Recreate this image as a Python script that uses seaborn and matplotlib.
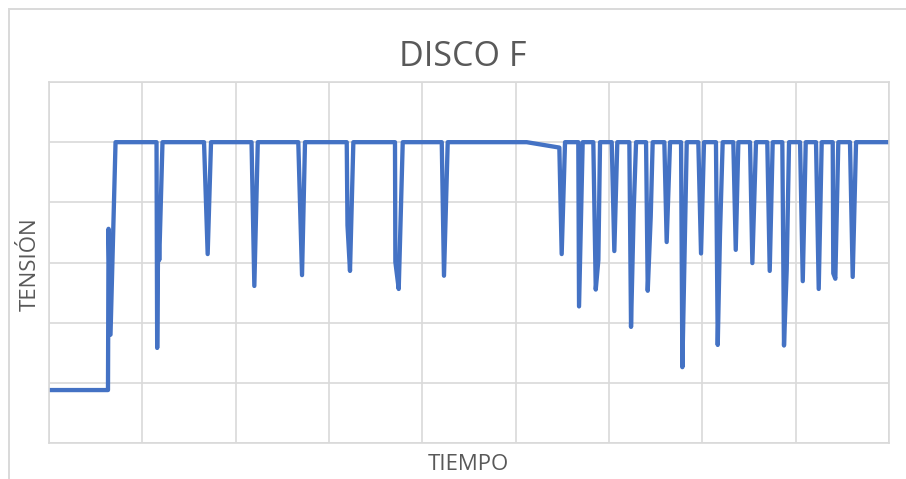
import matplotlib
matplotlib.use("Agg")
import matplotlib.pyplot as plt
import seaborn as sns
import pandas as pd
from matplotlib.patches import Rectangle

# Voltage trace of disc F over time
tiempo = [0.00, 6.32, 6.38, 6.59, 7.13,
          11.52, 11.59, 11.71, 11.81, 12.16,
          16.61, 17.00, 17.36,
          21.70, 22.00, 22.37,
          26.71, 27.11, 27.43,
          31.90, 31.98, 32.25, 32.61,
          37.07, 37.11, 37.47, 37.90,
          42.08, 42.32, 42.72,
          51.18, 54.68, 54.93, 55.29,
          56.71, 56.79, 57.18,
          58.32, 58.58, 58.86, 59.04,
          60.29, 60.57, 60.89,
          62.18, 62.36, 62.65, 62.90,
          63.97, 64.15, 64.47, 64.68,
          65.93, 66.18, 66.54,
          67.72, 67.86, 68.15, 68.33,
          69.57, 69.86, 70.18,
          71.46, 71.65, 71.89, 72.18,
          73.32, 73.58, 73.86,
          75.11, 75.36, 75.75,
          76.96, 77.22, 77.54,
          78.57, 78.75, 79.04, 79.29,
          80.47, 80.76, 81.08,
          82.18, 82.47, 82.79,
          83.97, 84.03, 84.25, 84.57,
          85.82, 86.11, 86.47,
          90.00]
tension = [0.88, 0.88, 3.56, 1.80, 5.00,
           5.00, 1.58, 3.67, 3.04, 5.00,
           5.00, 3.14, 5.00,
           5.00, 2.61, 5.00,
           5.00, 2.79, 5.00,
           5.00, 3.62, 2.86, 5.00,
           5.00, 3.01, 2.56, 5.00,
           5.00, 2.78, 5.00,
           5.00, 4.91, 3.14, 5.00,
           5.00, 2.27, 5.00,
           5.00, 2.55, 3.04, 5.00,
           5.00, 3.19, 5.00,
           5.00, 1.93, 3.89, 5.00,
           5.00, 2.53, 3.76, 5.00,
           5.00, 3.34, 5.00,
           5.00, 1.26, 3.57, 5.00,
           5.00, 3.15, 5.00,
           5.00, 1.63, 3.46, 5.00,
           5.00, 3.21, 5.00,
           5.00, 2.99, 5.00,
           5.00, 2.86, 5.00,
           5.00, 1.62, 2.88, 5.00,
           5.00, 2.69, 5.00,
           5.00, 2.56, 5.00,
           5.00, 2.82, 2.73, 5.00,
           5.00, 2.76, 5.00,
           5.00]

titulo = "DISCO F"
etiqueta_x = "TIEMPO"
etiqueta_y = "TENSIÓN"

df = pd.DataFrame({"tiempo": tiempo, "tension": tension})

sns.set_theme(style="white")
plt.rcParams["font.family"] = ["Open Sans", "DejaVu Sans"]

fig = plt.figure(figsize=(9.06, 4.79), dpi=100)
ax = fig.add_axes([49 / 906, 36 / 479, 840 / 906, 361 / 479])

# chart-area frame (left and top edges visible)
fig.patches.append(Rectangle((9 / 906, -0.05), 1.2, (479 - 9) / 479 + 0.05,
                             transform=fig.transFigure, fill=False,
                             edgecolor="#D9D9D9", linewidth=1.4))

sns.lineplot(data=df, x="tiempo", y="tension", ax=ax, sort=False,
             estimator=None, color="#4472C4", linewidth=3.1)
for ln in ax.lines:
    ln.set_solid_joinstyle("round")
    ln.set_solid_capstyle("round")

ax.set_xlim(0, 90)
ax.set_ylim(0, 6)
ax.set_xticks(range(0, 91, 10))
ax.set_yticks(range(0, 7))
ax.tick_params(length=0, labelbottom=False, labelleft=False)
ax.grid(True, color="#D9D9D9", linewidth=1.2)
ax.set_axisbelow(True)
for sp in ax.spines.values():
    sp.set_color("#D9D9D9")
    sp.set_linewidth(1.2)

ax.set_xlabel("")
ax.set_ylabel("")
fig.text(463 / 906, 1 - 57 / 479, titulo, ha="center", va="center",
         fontsize=24.5, color="#595959")
fig.text(468 / 906, 1 - 465 / 479, etiqueta_x, ha="center", va="center",
         fontsize=16, color="#595959")
fig.text(30 / 906, 1 - 264 / 479, etiqueta_y, ha="center", va="center",
         rotation=90, fontsize=16, color="#595959")

fig.savefig("out.png", dpi=100)
